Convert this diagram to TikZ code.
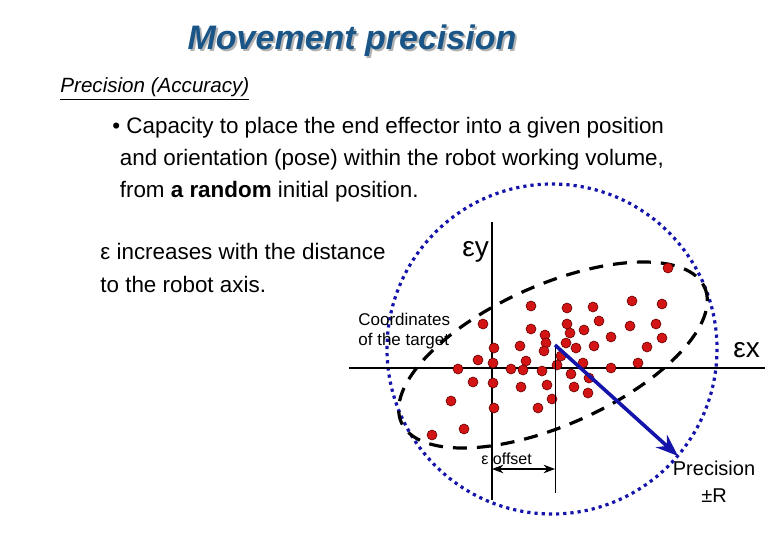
\documentclass[tikz,border=0pt]{standalone}
\usepackage{fontspec}
\setmainfont{Liberation Sans}
\usetikzlibrary{arrows.meta}
\usetikzlibrary{positioning}
\definecolor{titleblue}{RGB}{25,85,135}
\definecolor{dotred}{RGB}{210,20,20}
\definecolor{arrowblue}{RGB}{20,20,170}

\begin{document}
\begin{tikzpicture}[x=0.5pt, y=-0.5pt, >=Stealth]
    \tikzset{
        dot/.style={circle, fill=dotred, draw=red!40!black, line width=0.3pt, inner sep=0pt, minimum size=5pt},
        txt/.style={anchor=west, inner sep=0pt, font=\fontsize{11.2}{13}\selectfont}
    }
    \useasboundingbox (0,0) rectangle (780,540);

    % titles
    \node [font=\fontsize{17}{20}\selectfont\bfseries\itshape, text=gray!60] (shadow) at (354,43) {Movement precision};
    \node [font=\fontsize{17}{20}\selectfont\bfseries\itshape, text=titleblue] (title) at (352,41) {Movement precision};
    \node [txt, font=\fontsize{10.3}{12}\selectfont\itshape] (sub) at (60,89) {\underline{Precision (Accuracy)}};

    \node [txt] (b1) at (112,128) {\textbullet\ Capacity to place the end effector into a given position};
    \node [txt] (b2) at (107,160) {\ \ and orientation (pose) within the robot working volume,};
    \node [txt] (b3) at (107,192) {\ \ from \textbf{a random} initial position.};
    \node [txt] (e1) at (100,251) {ε increases with the distance};
    \node [txt] (e2) at (100,284) {to the robot axis.};

    % precision circle and dispersion ellipse
    \draw [arrowblue, line width=1.6pt, dotted] (552,349) circle [radius=165];
    \draw [black, line width=1.6pt, dash pattern=on 7pt off 5pt, rotate around={24:(553,355)}] (553,355) ellipse [x radius=166, y radius=70];

    % axes
    \draw [line width=1pt] (349,368) -- (765,368);
    \draw [line width=1pt] (492,222) -- (492,500);
    \node [txt, font=\fontsize{14}{16}\selectfont] (ey) at (462,252) {εy};
    \node [txt, font=\fontsize{14}{16}\selectfont] (ex) at (733,350) {εx};

    % points
    \foreach \px/\py in {668/268, 531/306, 567/308, 593/307, 632/301, 662/304, 483/324, 531/329,
        567/324, 584/330, 599/321, 630/326, 656/324, 545/335, 546/343, 570/333, 566/343, 576/348,
        594/346, 611/337, 647/347, 662/338, 494/348, 520/346, 544/351, 478/360, 493/363, 526/361,
        561/356, 557/365, 583/363, 611/368, 638/363, 458/369, 511/369, 523/370, 542/371, 571/374,
        589/378, 473/382, 493/383, 521/387, 547/385, 574/387, 588/393, 552/399, 451/401, 494/408,
        538/408, 464/429, 432/435}
        \node [dot] at (\px,\py) {};

    % offset
    \coordinate (mean) at (555,345);
    \coordinate (meanfoot) at (555,493);
    \draw [line width=0.5pt] (mean) -- (meanfoot);
    \coordinate (offl) at (492,469);
    \coordinate (offr) at (555,469);
    \draw [<->, line width=0.6pt] (offl) -- (offr);
    \node [txt, font=\fontsize{8}{9}\selectfont] (eoff) at (481,459) {ε offset};
    \node [txt, font=\fontsize{8.5}{10}\selectfont, align=left] (coord) at (358,331) {Coordinates\\of the target};

    % precision radius
    \coordinate (rim) at (678,456);
    \draw [->, arrowblue, line width=1.8pt] (mean) -- (rim);
    \node [font=\fontsize{10}{13.5}\selectfont, align=center] (prec) at (714,482) {Precision\\±R};
\end{tikzpicture}
\end{document}
